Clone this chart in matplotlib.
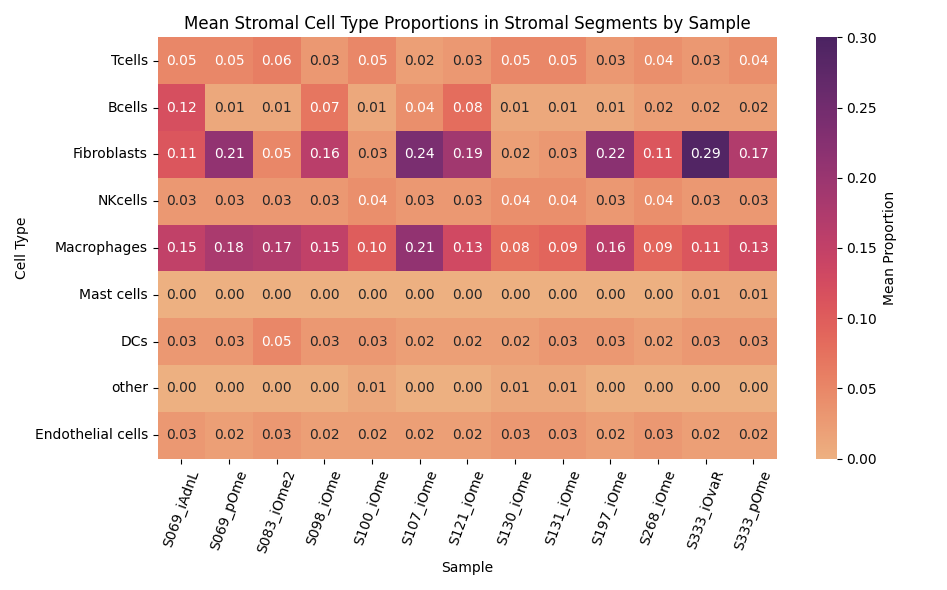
import matplotlib
matplotlib.use("Agg")
import matplotlib.pyplot as plt
import seaborn as sns
import pandas as pd

samples = ["S069_iAdnL", "S069_pOme", "S083_iOme2", "S098_iOme", "S100_iOme", "S107_iOme",
           "S121_iOme", "S130_iOme", "S131_iOme", "S197_iOme", "S268_iOme", "S333_iOvaR", "S333_pOme"]
cell_types = ["Tcells", "Bcells", "Fibroblasts", "NKcells", "Macrophages", "Mast cells",
              "DCs", "other", "Endothelial cells"]

tcells = [0.05, 0.05, 0.06, 0.03, 0.05, 0.02, 0.03, 0.05, 0.05, 0.03, 0.04, 0.03, 0.04]
bcells = [0.12, 0.01, 0.01, 0.07, 0.01, 0.04, 0.08, 0.01, 0.01, 0.01, 0.02, 0.02, 0.02]
fibroblasts = [0.11, 0.21, 0.05, 0.16, 0.03, 0.24, 0.19, 0.02, 0.03, 0.22, 0.11, 0.29, 0.17]
nkcells = [0.03, 0.03, 0.03, 0.03, 0.04, 0.03, 0.03, 0.04, 0.04, 0.03, 0.04, 0.03, 0.03]
macrophages = [0.15, 0.18, 0.17, 0.15, 0.10, 0.21, 0.13, 0.08, 0.09, 0.16, 0.09, 0.11, 0.13]
mast_cells = [0.00, 0.00, 0.00, 0.00, 0.00, 0.00, 0.00, 0.00, 0.00, 0.00, 0.00, 0.01, 0.01]
dcs = [0.03, 0.03, 0.05, 0.03, 0.03, 0.02, 0.02, 0.02, 0.03, 0.03, 0.02, 0.03, 0.03]
other = [0.00, 0.00, 0.00, 0.00, 0.01, 0.00, 0.00, 0.01, 0.01, 0.00, 0.00, 0.00, 0.00]
endothelial = [0.03, 0.02, 0.03, 0.02, 0.02, 0.02, 0.02, 0.03, 0.03, 0.02, 0.03, 0.02, 0.02]

df = pd.DataFrame([tcells, bcells, fibroblasts, nkcells, macrophages, mast_cells, dcs, other, endothelial],
                  index=cell_types, columns=samples)

fig, ax = plt.subplots(figsize=(9.47, 5.9), dpi=100)
sns.heatmap(df, annot=True, fmt=".2f", cmap="flare", vmin=0, vmax=0.3,
            cbar_kws={"label": "Mean Proportion"}, ax=ax)
ax.set_title("Mean Stromal Cell Type Proportions in Stromal Segments by Sample")
ax.set_xlabel("Sample")
ax.set_ylabel("Cell Type")
plt.xticks(rotation=70)
plt.yticks(rotation=0)
plt.tight_layout()
plt.savefig("out.png")
